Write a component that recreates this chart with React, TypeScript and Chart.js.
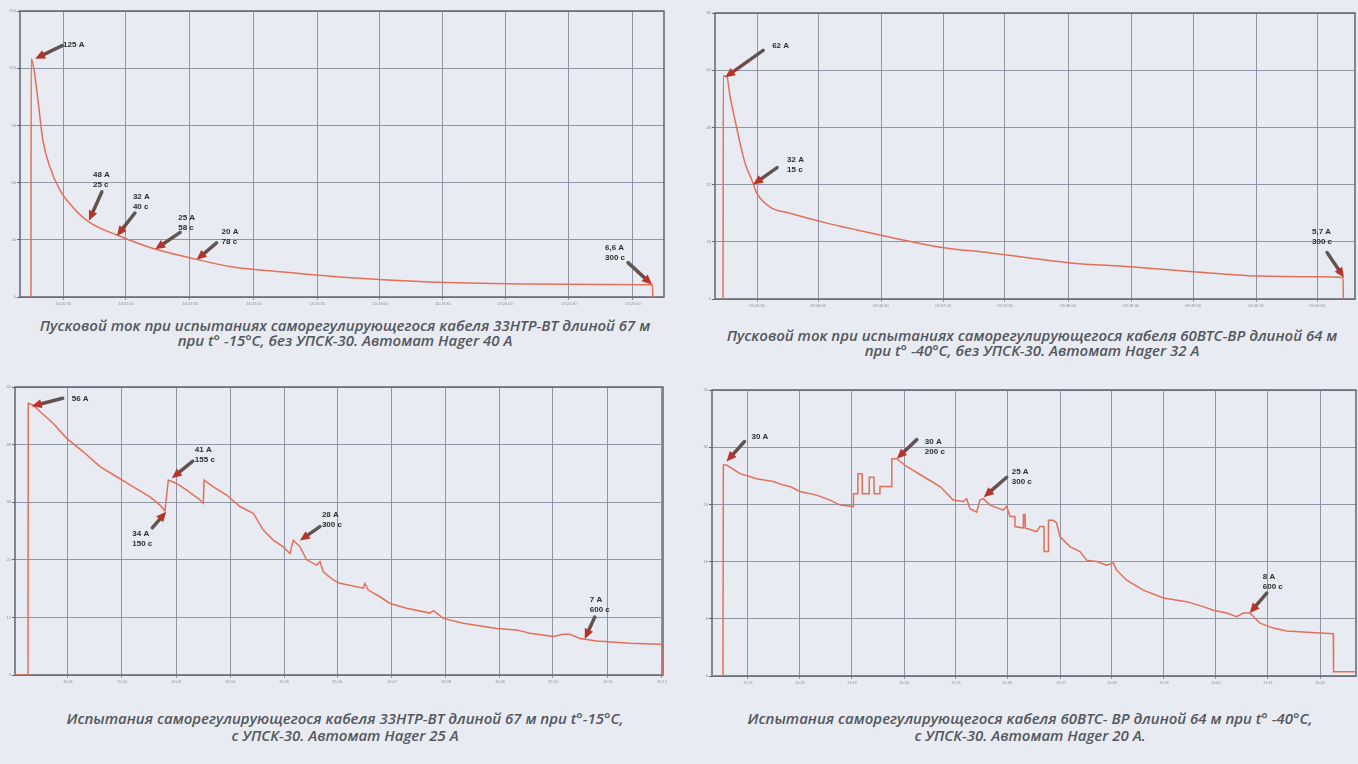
import React, { useEffect, useRef } from "react";
import { Chart, registerables } from "chart.js";

Chart.register(...registerables);

// ---------- Chart 1: 33HTP-BT, 67 m, -15°C, без УПСК ----------
const c1Time = [0, 0.1, 1.5, 3.4, 5.8, 9.2, 14, 20.3, 28.5, 41.5, 57.5, 77, 97.6, 121.7, 149, 193, 241, 297.6, 300.2, 300.4];
const c1Current = [0, 125, 119, 103, 82, 68, 56, 47, 39, 32.5, 26, 20.5, 15.7, 13.1, 10.5, 7.9, 6.8, 6.4, 6.4, 0];
const c1XTicks = [15.5, 45.9, 76.8, 107.7, 138.2, 168.6, 199, 229, 259.9, 290.8];
const c1XLabels = ["14:20:30", "14:21:00", "14:21:30", "14:22:00", "14:22:30", "14:23:00", "14:23:30", "14:24:00", "14:24:30", "14:25:00"];
const c1YMax = 150;
const c1YStep = 30;
const c1NoteText = ["125 A", "48 A\n25 c", "32 A\n40 c", "25 A\n58 c", "20 A\n78 c", "6,6 A\n300 c"];
const c1NoteTime = [2, 28, 41.5, 60, 80, 300];
const c1NoteCurrent = [125, 40, 32, 25, 19.5, 6.5];

// ---------- Chart 2: 60BTC-BP, 64 m, -40°C, без УПСК ----------
const c2Time = [0, 0.1, 1.8, 3.4, 5.8, 8.2, 10.6, 13.9, 16.3, 22.7, 32.4, 48.3, 64.7, 80.7, 104.8, 129, 148, 167.6, 196.6, 227, 258, 287, 299.5, 299.7];
const c2Current = [0, 62.4, 62.2, 56.6, 50, 43.6, 38, 33.3, 29.6, 25.7, 24, 21.5, 19.3, 17.3, 14.5, 12.9, 11.5, 10.1, 9.0, 7.6, 6.4, 6.2, 6.0, 0];
const c2XTicks = [16.4, 45.9, 76.3, 106.3, 136.2, 166.7, 197.1, 227.1, 257.5, 287];
const c2XLabels = ["09:45:30", "09:46:00", "09:46:30", "09:47:00", "09:47:30", "09:48:00", "09:48:30", "09:49:00", "09:49:30", "09:50:00"];
const c2YMax = 80;
const c2YStep = 16;
const c2NoteText = ["62 A", "32 A\n15 c", "5,7 A\n300 c"];
const c2NoteTime = [1, 14.5, 300];
const c2NoteCurrent = [62, 32, 6];

// ---------- Chart 3: 33HTP-BT, 67 m, -15°C, с УПСК ----------
const c3Time = [-14, 0, 0.3, 5.7, 12.9, 27.3, 41.7, 59.6, 77.6, 95.6, 113.5, 131.5, 142.2, 147.6, 151.2, 160.2, 171, 185.3, 188.9, 189.7, 199.7, 214.1, 228.4, 242.8, 253.6, 264.3, 275.1, 282.3, 285.9, 293.1, 300.3, 311.1, 314.7, 318.2, 329, 336.2, 361.3, 363.1, 366.7, 379.3, 390.1, 408.1, 433.2, 436.8, 440.4, 447.5, 469.1, 505, 526.6, 540.9, 566, 576.8, 584, 594.8, 612.8, 648.7, 682.9, 683.3];
const c3Current = [0, 0, 56.6, 56.2, 54.9, 52.4, 49.3, 46.5, 43.4, 41.3, 39.2, 37.1, 35.4, 34.2, 40.6, 39.9, 38.5, 36.5, 35.8, 40.6, 39.2, 37.5, 35.1, 33.7, 30.2, 28.1, 26.7, 25.3, 28.1, 26.7, 24.0, 22.9, 23.6, 21.5, 19.8, 19.1, 18.1, 19.1, 17.7, 16.3, 14.9, 13.9, 12.9, 13.4, 12.9, 11.8, 10.8, 9.7, 9.4, 8.7, 8.0, 8.5, 8.5, 7.6, 7.1, 6.6, 6.4, 0];
const c3XTicks = [43.1, 101.3, 159.5, 217.7, 275.9, 333, 392.2, 450.4, 508.6, 565.7, 625, 683.2];
const c3XLabels = ["15:01", "15:02", "15:03", "15:04", "15:05", "15:06", "15:07", "15:08", "15:09", "15:10", "15:11", "15:12"];
const c3YMax = 60;
const c3YStep = 12;
const c3NoteText = ["56 A", "41 A\n155 c", "34 A\n150 c", "28 A\n300 c", "7 A\n600 c"];
const c3NoteTime = [4, 155, 149, 293, 600];
const c3NoteCurrent = [56, 41, 34, 28, 7.5];

// ---------- Chart 4: 60BTC-BP, 64 m, -40°C, с УПСК ----------
const c4Time = [-12.5, 0, 0.4, 4.2, 19.4, 38.4, 57.3, 68.7, 76.3, 87.7, 106.7, 121.9, 133.3, 148.4, 148.6, 153.6, 153.8, 158.5, 158.7, 166.4, 166.6, 172, 172.2, 178.6, 178.8, 192.1, 192.3, 197.8, 209.2, 228.2, 247.2, 262.3, 273.7, 277.5, 281.3, 288.9, 292.7, 296.5, 304.1, 319.3, 323.1, 326.9, 332.5, 332.7, 342, 342.2, 344, 344.2, 357.3, 361, 365.6, 365.8, 370.5, 370.7, 376.2, 380, 383.8, 395.2, 406.6, 414.2, 425.6, 437, 444.6, 448.4, 459.8, 478.7, 501.5, 528.1, 547, 558.4, 573.7, 585, 592.6, 600.2, 611.6, 626.8, 642, 680, 695.2, 695.4, 721];
const c4Current = [0, 0, 29.5, 29.5, 28.3, 27.6, 27.2, 26.7, 26.5, 25.8, 25.3, 24.6, 23.9, 23.7, 25.5, 25.5, 28.3, 28.3, 25.5, 25.5, 27.8, 27.8, 25.5, 25.5, 26.5, 26.5, 30.4, 30.4, 29.3, 27.9, 26.5, 24.6, 24.4, 24.8, 23.4, 22.9, 24.6, 24.8, 23.9, 23.2, 23.7, 22.3, 22.3, 20.9, 20.7, 22.6, 22.6, 20.7, 20.2, 20.9, 20.9, 17.4, 17.4, 21.8, 21.8, 21.4, 19.5, 18.1, 17.4, 16.2, 16.0, 15.5, 15.8, 14.8, 13.4, 12.0, 10.9, 10.4, 9.7, 9.2, 8.8, 8.3, 8.8, 8.8, 7.4, 6.7, 6.3, 6.0, 5.9, 0.6, 0.6];
const c4XTicks = [28.5, 87.7, 146.9, 206.2, 265.4, 323.5, 385, 443, 502.3, 561.5, 620.7, 680];
const c4XLabels = ["11:31", "11:32", "11:33", "11:34", "11:35", "11:36", "11:37", "11:38", "11:39", "11:40", "11:41", "11:42"];
const c4YMax = 40;
const c4YStep = 8;
const c4NoteText = ["30 A", "30 A\n200 c", "25 A\n300 c", "8 A\n600 c"];
const c4NoteTime = [4, 198, 297, 600];
const c4NoteCurrent = [30, 30.4, 25, 8.8];

const captions = [
  ["Пусковой ток при испытаниях саморегулирующегося кабеля 33НТР-ВТ длиной 67 м", "при t° -15°C, без УПСК-30. Автомат Hager 40 A"],
  ["Пусковой ток при испытаниях саморегулирующегося кабеля 60ВТС-ВР длиной 64 м", "при t° -40°C, без УПСК-30. Автомат Hager 32 A"],
  ["Испытания саморегулирующегося кабеля 33НТР-ВТ длиной 67 м при t°-15°C,", "с УПСК-30. Автомат Hager 25 A"],
  ["Испытания саморегулирующегося кабеля 60ВТС- ВР длиной 64 м при t° -40°C,", "с УПСК-30.  Автомат Hager 20 A."],
];

// ---------- styles / layout (pixels) ----------
const BG = "#e8ebf2";
const LINE = "#e46f5a";
const GRID = "#8f97a6";
const FRAME = "#5f6571";

type Panel = {
  time: number[];
  current: number[];
  smooth: boolean;
  xTicks: number[];
  xLabels: string[];
  xMin: number;
  xMax: number;
  yMax: number;
  yStep: number;
  noteText: string[];
  noteTime: number[];
  noteCurrent: number[];
  noteOffsets: number[][]; // [tailDx, tailDy, textDx, textDy]
  box: { left: number; top: number; width: number; height: number };
  pad: { top: number; right: number };
  yAxisW: number;
  xAxisH: number;
};

const panels: Panel[] = [
  {
    time: c1Time, current: c1Current, smooth: true, xTicks: c1XTicks, xLabels: c1XLabels,
    xMin: -5.3, xMax: 305.8, yMax: c1YMax, yStep: c1YStep,
    noteText: c1NoteText, noteTime: c1NoteTime, noteCurrent: c1NoteCurrent,
    noteOffsets: [[27, -13, 28, -14], [13, -29, 4, -46], [18, -23, 16, -39], [25, -17, 23, -32], [20, -17, 25, -28], [-24, -22, -47, -37]],
    box: { left: 0, top: 0, width: 672, height: 312 }, pad: { top: 11, right: 8 }, yAxisW: 20, xAxisH: 15,
  },
  {
    time: c2Time, current: c2Current, smooth: true, xTicks: c2XTicks, xLabels: c2XLabels,
    xMin: -3.9, xMax: 305.3, yMax: c2YMax, yStep: c2YStep,
    noteText: c2NoteText, noteTime: c2NoteTime, noteCurrent: c2NoteCurrent,
    noteOffsets: [[38, -27, 47, -32], [24, -17, 34, -25], [-17, -25, -32, -46]],
    box: { left: 695, top: 0, width: 663, height: 314 }, pad: { top: 13, right: 3 }, yAxisW: 20, xAxisH: 15,
  },
  {
    time: c3Time, current: c3Current, smooth: false, xTicks: c3XTicks, xLabels: c3XLabels,
    xMin: -14, xMax: 684.3, yMax: c3YMax, yStep: c3YStep,
    noteText: c3NoteText, noteTime: c3NoteTime, noteCurrent: c3NoteCurrent,
    noteOffsets: [[31, -8, 40, -7], [21, -17, 23, -28], [-14, 16, -34, 22], [20, -14, 22, -26], [10, -22, 5, -39]],
    box: { left: 0, top: 374, width: 672, height: 316 }, pad: { top: 13, right: 9 }, yAxisW: 15, xAxisH: 15,
  },
  {
    time: c4Time, current: c4Current, smooth: false, xTicks: c4XTicks, xLabels: c4XLabels,
    xMin: -12.5, xMax: 721, yMax: c4YMax, yStep: c4YStep,
    noteText: c4NoteText, noteTime: c4NoteTime, noteCurrent: c4NoteCurrent,
    noteOffsets: [[18, -20, 25, -25], [20, -19, 28, -17], [23, -20, 28, -25], [17, -20, 13, -36]],
    box: { left: 695, top: 374, width: 663, height: 317 }, pad: { top: 16, right: 2 }, yAxisW: 17, xAxisH: 15,
  },
];

const captionPos = [
  { cx: 345, top: 318, lh: 15 },
  { cx: 1032, top: 328, lh: 15 },
  { cx: 345, top: 710, lh: 17 },
  { cx: 1030, top: 710, lh: 17 },
];

function drawArrow(ctx: CanvasRenderingContext2D, x0: number, y0: number, x1: number, y1: number) {
  const ang = Math.atan2(y1 - y0, x1 - x0);
  const headLen = 10;
  const headW = 4.5;
  const bx = x1 - headLen * Math.cos(ang);
  const by = y1 - headLen * Math.sin(ang);
  const g = ctx.createLinearGradient(x0, y0, x1, y1);
  g.addColorStop(0, "#5a5a5a");
  g.addColorStop(0.6, "#6d4c47");
  g.addColorStop(1, "#b3342a");
  ctx.save();
  ctx.strokeStyle = g;
  ctx.lineWidth = 3.5;
  ctx.lineCap = "round";
  ctx.beginPath();
  ctx.moveTo(x0, y0);
  ctx.lineTo(bx, by);
  ctx.stroke();
  ctx.fillStyle = "#b5352b";
  ctx.beginPath();
  ctx.moveTo(x1, y1);
  ctx.lineTo(bx + headW * Math.sin(ang), by - headW * Math.cos(ang));
  ctx.lineTo(bx - headW * Math.sin(ang), by + headW * Math.cos(ang));
  ctx.closePath();
  ctx.fill();
  ctx.restore();
}

function ChartPanel({ p }: { p: Panel }) {
  const ref = useRef<HTMLCanvasElement | null>(null);
  useEffect(() => {
    if (!ref.current) return;
    const data = p.time.map((t, i) => ({ x: t, y: p.current[i] }));
    const framePlugin = {
      id: "frame",
      beforeDatasetsDraw(chart: any) {
        const { ctx, chartArea: a } = chart;
        ctx.save();
        ctx.strokeStyle = FRAME;
        ctx.lineWidth = 1.5;
        ctx.strokeRect(a.left, a.top, a.right - a.left, a.bottom - a.top);
        ctx.restore();
      },
    };
    const notesPlugin = {
      id: "notes",
      afterDatasetsDraw(chart: any) {
        const { ctx } = chart;
        const xs = chart.scales.x;
        const ys = chart.scales.y;
        p.noteText.forEach((txt, i) => {
          const x1 = xs.getPixelForValue(p.noteTime[i]);
          const y1 = ys.getPixelForValue(p.noteCurrent[i]);
          const [dx, dy, tx, ty] = p.noteOffsets[i];
          drawArrow(ctx, x1 + dx, y1 + dy, x1, y1);
          ctx.save();
          ctx.font = 'bold 8px "Liberation Sans", Arial, sans-serif';
          ctx.fillStyle = "#2e2e2e";
          ctx.textAlign = "left";
          ctx.textBaseline = "middle";
          txt.split("\n").forEach((line, k) => ctx.fillText(line, x1 + tx, y1 + ty + k * 10));
          ctx.restore();
        });
      },
    };
    const chart = new Chart(ref.current, {
      type: "line",
      data: {
        datasets: [
          {
            data,
            borderColor: LINE,
            borderWidth: 1.5,
            pointRadius: 0,
            tension: 0,
            cubicInterpolationMode: p.smooth ? "monotone" : "default",
            fill: false,
          },
        ],
      },
      options: {
        responsive: false,
        maintainAspectRatio: false,
        animation: false,
        devicePixelRatio: 1,
        layout: { padding: { top: p.pad.top, right: p.pad.right, left: 0, bottom: 0 } },
        plugins: { legend: { display: false }, tooltip: { enabled: false } },
        scales: {
          x: {
            type: "linear",
            min: p.xMin,
            max: p.xMax,
            afterBuildTicks: (axis: any) => {
              axis.ticks = p.xTicks.map((v) => ({ value: v }));
            },
            afterFit: (axis: any) => {
              axis.height = p.xAxisH;
            },
            ticks: {
              autoSkip: false,
              maxRotation: 0,
              padding: 1,
              color: "#8a8f99",
              font: { size: 4, family: "Liberation Sans" },
              callback: (_v: any, i: number) => p.xLabels[i],
            },
            grid: { color: GRID, lineWidth: 1, tickLength: 3, tickColor: GRID },
            border: { display: false },
          },
          y: {
            type: "linear",
            min: 0,
            max: p.yMax,
            afterFit: (axis: any) => {
              axis.width = p.yAxisW;
            },
            ticks: {
              stepSize: p.yStep,
              padding: 1,
              color: "#8a8f99",
              font: { size: 4, family: "Liberation Sans" },
            },
            grid: { color: GRID, lineWidth: 1, tickLength: 3, tickColor: FRAME },
            border: { display: false },
          },
        },
      },
      plugins: [framePlugin, notesPlugin],
    } as any);
    return () => chart.destroy();
  }, [p]);
  return (
    <canvas
      ref={ref}
      width={p.box.width}
      height={p.box.height}
      style={{ position: "absolute", left: p.box.left, top: p.box.top, width: p.box.width, height: p.box.height }}
    />
  );
}

export default function App() {
  return (
    <div style={{ position: "absolute", left: 0, top: 0, width: 1358, height: 764, background: BG, overflow: "hidden" }}>
      {panels.map((p, i) => (
        <ChartPanel key={i} p={p} />
      ))}
      {captions.map((lines, i) => (
        <div
          key={"c" + i}
          style={{
            position: "absolute",
            left: captionPos[i].cx - 340,
            width: 680,
            top: captionPos[i].top,
            textAlign: "center",
            fontFamily: '"Open Sans", sans-serif',
            fontStyle: "italic",
            fontWeight: 600,
            fontSize: 15,
            lineHeight: captionPos[i].lh + "px",
            color: "#53575e",
            whiteSpace: "nowrap",
          }}
        >
          {lines.map((l, k) => (
            <div key={k}>{l}</div>
          ))}
        </div>
      ))}
    </div>
  );
}
